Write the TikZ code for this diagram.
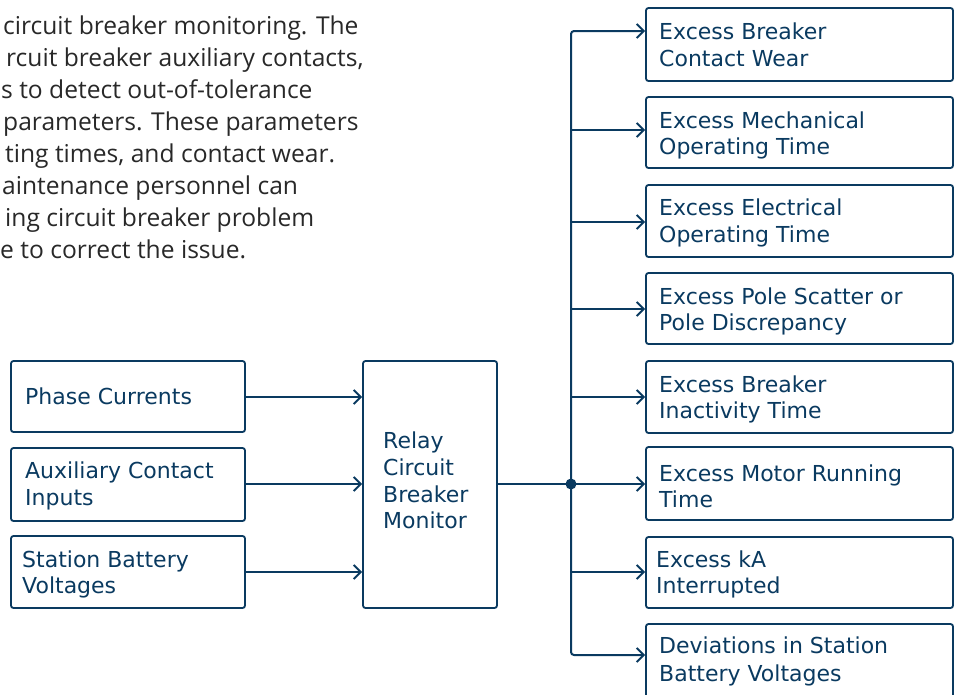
\documentclass[tikz,border=0pt]{standalone}
\usepackage{fontspec}
\usetikzlibrary{arrows.meta}
\newfontfamily\boxfont{DejaVu Sans}
\newfontfamily\parfont{Open Sans}
\definecolor{navy}{RGB}{10,58,96}
\definecolor{partext}{RGB}{40,40,40}
\tikzset{
  box/.style={draw=navy, line width=1.8pt, rounded corners=2.5pt, inner sep=0pt},
  lbl/.style={anchor=base west, inner sep=0pt, text=navy, font=\boxfont\fontsize{22}{27}\selectfont},
  ptxt/.style={anchor=base west, inner sep=0pt, text=partext, font=\parfont\fontsize{24.6}{32}\selectfont},
  conn/.style={draw=navy, line width=2pt},
  arr/.style={conn, -{Straight Barb[length=7pt,width=14pt,line width=2pt]}}
}
\begin{document}
\begin{tikzpicture}[x=1pt,y=-1pt]
\useasboundingbox (0,0) rectangle (956,694);
% paragraph
\node[ptxt] (p1) at (3,34) {circuit breaker monitoring. The};
\node[ptxt] (p2) at (6,66) {rcuit breaker auxiliary contacts,};
\node[ptxt] (p3) at (1,98) {s to detect out-of-tolerance};
\node[ptxt] (p4) at (3,130) {parameters. These parameters};
\node[ptxt] (p5) at (5,162) {ting times, and contact wear.};
\node[ptxt] (p6) at (2,194) {aintenance personnel can};
\node[ptxt] (p7) at (5,226) {ing circuit breaker problem};
\node[ptxt] (p8) at (0,258) {e to correct the issue.};
% left boxes
\node[box, minimum width=234pt, minimum height=71pt] (in1) at (128,396.5) {};
\node[box, minimum width=234pt, minimum height=73pt] (in2) at (128,484.5) {};
\node[box, minimum width=234pt, minimum height=72pt] (in3) at (128,572) {};
\node[lbl] (t1) at (25,404) {Phase Currents};
\node[lbl] (t2a) at (25,478) {Auxiliary Contact};
\node[lbl] (t2b) at (25,505) {Inputs};
\node[lbl] (t3a) at (22,567) {Station Battery};
\node[lbl] (t3b) at (22,593) {Voltages};
% relay
\node[box, minimum width=134pt, minimum height=247pt] (relay) at (430,484.5) {};
\node[lbl] (rl1) at (383,448) {Relay};
\node[lbl] (rl2) at (383,475) {Circuit};
\node[lbl] (rl3) at (383,502) {Breaker};
\node[lbl] (rl4) at (383,528) {Monitor};
% right boxes
\node[box, minimum width=307pt, minimum height=73pt] (o1) at (799.5,44.5) {};
\node[box, minimum width=307pt, minimum height=71pt] (o2) at (799.5,132.5) {};
\node[box, minimum width=307pt, minimum height=72pt] (o3) at (799.5,221) {};
\node[box, minimum width=307pt, minimum height=71pt] (o4) at (799.5,308.5) {};
\node[box, minimum width=307pt, minimum height=72pt] (o5) at (799.5,397) {};
\node[box, minimum width=307pt, minimum height=73pt] (o6) at (799.5,483.5) {};
\node[box, minimum width=307pt, minimum height=71pt] (o7) at (799.5,572.5) {};
\node[box, minimum width=307pt, minimum height=76pt] (o8) at (799.5,662) {};
\node[lbl] (u1a) at (659,39) {Excess Breaker};
\node[lbl] (u1b) at (659,66) {Contact Wear};
\node[lbl] (u2a) at (659,128) {Excess Mechanical};
\node[lbl] (u2b) at (659,154) {Operating Time};
\node[lbl] (u3a) at (659,215) {Excess Electrical};
\node[lbl] (u3b) at (659,242) {Operating Time};
\node[lbl] (u4a) at (659,304) {Excess Pole Scatter or};
\node[lbl] (u4b) at (659,330) {Pole Discrepancy};
\node[lbl] (u5a) at (659,392) {Excess Breaker};
\node[lbl] (u5b) at (659,418) {Inactivity Time};
\node[lbl] (u6a) at (659,481) {Excess Motor Running};
\node[lbl] (u6b) at (659,507) {Time};
\node[lbl] (u7a) at (656,567) {Excess kA};
\node[lbl] (u7b) at (656,593) {Interrupted};
\node[lbl] (u8a) at (659,653) {Deviations in Station};
\node[lbl] (u8b) at (659,681) {Battery Voltages};
% bus coordinates
\coordinate (j) at (571,484);
\coordinate (i1) at (0,397);
\coordinate (i3) at (0,572);
\coordinate (a1) at (571,31);
\coordinate (a2) at (571,130);
\coordinate (a3) at (571,222);
\coordinate (a4) at (571,309);
\coordinate (a5) at (571,397);
\coordinate (a7) at (571,572);
\coordinate (a8) at (571,655);
% input arrows
\draw[arr] (in1.east |- i1) -- (relay.west |- i1);
\draw[arr] (in2.east |- j) -- (relay.west |- j);
\draw[arr] (in3.east |- i3) -- (relay.west |- i3);
% bus
\draw[conn] (relay.east |- j) -- (j);
\draw[arr, rounded corners=3pt] (j) -- (a1) -- (o1.west |- a1);
\draw[arr, rounded corners=3pt] (j) -- (a8) -- (o8.west |- a8);
\draw[arr] (a2) -- (o2.west |- a2);
\draw[arr] (a3) -- (o3.west |- a3);
\draw[arr] (a4) -- (o4.west |- a4);
\draw[arr] (a5) -- (o5.west |- a5);
\draw[arr] (j) -- (o6.west |- j);
\draw[arr] (a7) -- (o7.west |- a7);
\fill[navy] (j) circle (5.5pt);
\end{tikzpicture}
\end{document}
